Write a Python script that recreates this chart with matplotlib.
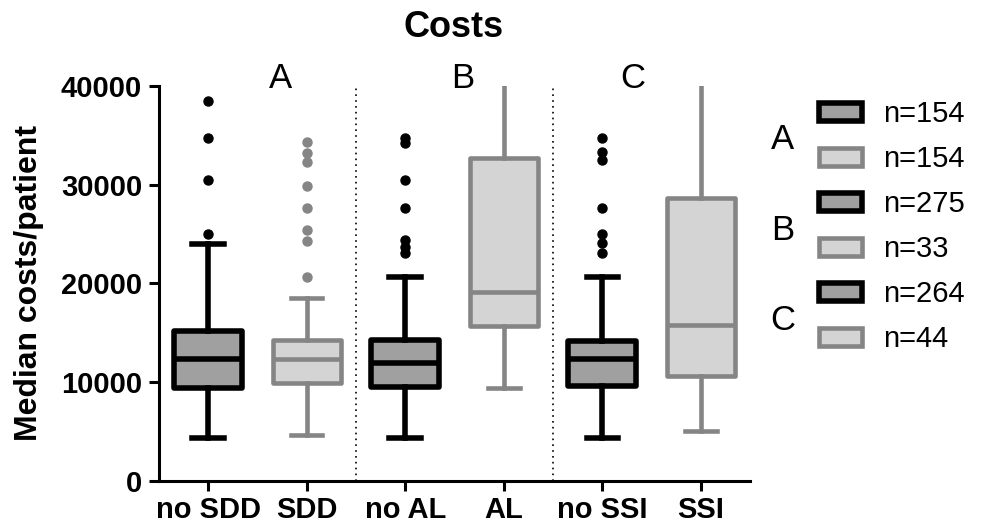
import matplotlib
matplotlib.use('Agg')
import matplotlib.pyplot as plt
import matplotlib.patches as patches

plt.rcParams['font.family'] = ['Liberation Sans', 'DejaVu Sans']

# box statistics
labels = ['no SDD', 'SDD', 'no AL', 'AL', 'no SSI', 'SSI']
q1 = [9420, 9920, 9520, 15700, 9620, 10630]
med = [12350, 12350, 11950, 19140, 12350, 15800]
q3 = [15190, 14280, 14280, 32710, 14180, 28660]
whislo = [4350, 4660, 4350, 9420, 4350, 5060]
whishi = [24000, 18530, 20660, 40500, 20660, 40500]
fliers = [
    [38480, 34730, 30480, 25010],
    [34330, 33210, 32300, 29870, 27640, 25420, 24300, 20660],
    [34730, 34230, 30480, 27640, 24400, 23700, 23090],
    [],
    [34730, 33320, 32510, 27640, 25010, 24100, 23090],
    [],
]
groups = ['A', 'B', 'C']
group_x = [0.73, 2.58, 4.31]
n_counts = ['n=154', 'n=154', 'n=275', 'n=33', 'n=264', 'n=44']

dark_face, dark_edge = '#a0a0a0', 'black'
light_face, light_edge = '#d4d4d4', '#858585'

fig = plt.figure(figsize=(9.87, 5.24), dpi=100)
ax = fig.add_axes([0.161, 0.082, 0.599, 0.754])

for i in range(len(labels)):
    dark = i % 2 == 0
    fc = dark_face if dark else light_face
    ec = dark_edge if dark else light_edge
    lw = 4.0 if dark else 3.3
    stats = [dict(med=med[i], q1=q1[i], q3=q3[i], whislo=whislo[i],
                  whishi=whishi[i], fliers=fliers[i])]
    ax.bxp(stats, positions=[i], widths=0.69, capwidths=0.32,
           patch_artist=True, manage_ticks=False,
           boxprops=dict(facecolor=fc, edgecolor=ec, linewidth=lw, joinstyle='round'),
           medianprops=dict(color=ec, linewidth=lw, solid_capstyle='butt'),
           whiskerprops=dict(color=ec, linewidth=lw),
           capprops=dict(color=ec, linewidth=lw),
           flierprops=dict(marker='o', markerfacecolor=ec, markeredgecolor=ec,
                           markersize=6.5))

ax.set_xlim(-0.5, 5.5)
ax.set_ylim(0, 40000)
ax.set_xticks(range(len(labels)))
ax.set_xticklabels(labels, fontsize=21, fontweight='bold')
ax.set_yticks([0, 10000, 20000, 30000, 40000])
ax.set_yticklabels(['0', '10000', '20000', '30000', '40000'], fontsize=21, fontweight='bold')
ax.tick_params(width=2.2, length=7, direction='out')
ax.tick_params(axis='y', pad=5)
ax.tick_params(axis='x', pad=4)
ax.spines['top'].set_visible(False)
ax.spines['right'].set_visible(False)
ax.spines['left'].set_linewidth(2.2)
ax.spines['bottom'].set_linewidth(2.2)

for x in [1.5, 3.5]:
    ax.axvline(x, color='black', linestyle=(0, (1, 2.5)), linewidth=1.2)

for gx, g in zip(group_x, groups):
    ax.text(gx, 39800, g, fontsize=25, ha='center', va='baseline')

ax.set_ylabel('Median costs/patient', fontsize=23, fontweight='bold', labelpad=12)
fig.text(0.46, 0.948, 'Costs', fontsize=26, fontweight='bold', ha='center', va='center')

# legend
handles = []
for i in range(len(labels)):
    dark = i % 2 == 0
    handles.append(patches.Patch(facecolor=dark_face if dark else light_face,
                                 edgecolor=dark_edge if dark else light_edge,
                                 linewidth=4.0 if dark else 3.3))
leg = fig.legend(handles, n_counts, loc='upper left', bbox_to_anchor=(0.830, 0.809),
                 frameon=False, fontsize=21, handlelength=1.45, handleheight=0.6,
                 labelspacing=0.585, handletextpad=0.75, borderaxespad=0, borderpad=0)
for j, g in enumerate(groups):
    fig.text(0.793, 0.733 - j * 0.172, g, fontsize=25, ha='center', va='center')

fig.savefig('out.png', dpi=100)
